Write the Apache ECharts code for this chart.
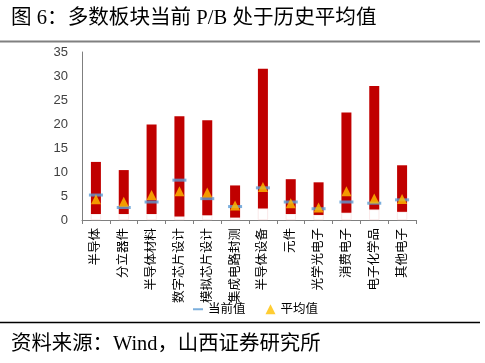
<!DOCTYPE html>
<html><head><meta charset="utf-8">
<script src="https://cdn.jsdelivr.net/npm/echarts@6/dist/echarts.min.js"></script>
<style>html,body{margin:0;padding:0;background:#fff}#c{width:485px;height:363px}</style>
</head><body><div id="c"></div>
<script>
const categories = ['半导体','分立器件','半导体材料','数字芯片设计','模拟芯片设计','集成电路封测','半导体设备','元件','光学光电子','消费电子','电子化学品','其他电子'];
const minValues = [1.25, 1.25, 1.25, 0.75, 1.0, 0.5, 2.4, 1.25, 1.05, 1.5, 2.2, 1.7];
const maxValues = [12.1, 10.4, 19.9, 21.6, 20.8, 7.2, 31.5, 8.5, 7.85, 22.4, 27.9, 11.4];
const currentValues = [5.2, 2.6, 3.75, 8.3, 4.45, 2.8, 6.7, 3.75, 2.35, 3.75, 3.5, 4.2];
const averageValues = [4.3, 3.8, 5.2, 6.0, 5.75, 3.0, 6.9, 3.5, 2.6, 6.0, 4.5, 4.35];
const yTicks = [0, 5, 10, 15, 20, 25, 30, 35];

const rangeValues = maxValues.map((v, i) => +(v - minValues[i]).toFixed(3));
const cjk = '"Liberation Serif", "Noto Sans CJK SC", serif';
const sans = '"Liberation Sans", "Noto Sans CJK SC", sans-serif';

const chart = echarts.init(document.getElementById('c'));
chart.setOption({
  animation: false,
  backgroundColor: '#fff',
  title: [
    { text: '图 6：多数板块当前 P/B 处于历史平均值', left: 6, top: 3,
      textStyle: { fontFamily: cjk, fontSize: 20.6, fontWeight: 'normal', color: '#000' } },
    { text: '资料来源：Wind，山西证券研究所', left: 6, top: 329,
      textStyle: { fontFamily: cjk, fontSize: 20.4, fontWeight: 'normal', color: '#000' } }
  ],
  graphic: [
    { type: 'line', shape: { x1: 0, y1: 41.5, x2: 480, y2: 41.5 }, style: { stroke: '#808080', lineWidth: 2 } },
    { type: 'line', shape: { x1: 0, y1: 322.5, x2: 480, y2: 322.5 }, style: { stroke: '#000', lineWidth: 1.5 } }
  ],
  grid: { left: 82, right: 69, top: 52, bottom: 143 },
  legend: {
    top: 298, left: 188, itemGap: 20, itemWidth: 10, itemHeight: 10,
    textStyle: { fontFamily: sans, fontSize: 12.5, color: '#000' },
    data: [
      { name: '当前值', icon: 'path://M0,4 L10,4 L10,6 L0,6 Z', itemStyle: { color: '#5B9BD5' } },
      { name: '平均值', icon: 'triangle', itemStyle: { color: '#FFC000' } }
    ]
  },
  xAxis: {
    type: 'category', data: categories,
    axisLine: { lineStyle: { color: '#7f7f7f', width: 1 } },
    axisTick: { show: true, length: 4, lineStyle: { color: '#7f7f7f' } },
    axisLabel: { rotate: 90, fontFamily: sans, fontSize: 12.5, color: '#000', margin: 8, interval: 0 }
  },
  yAxis: {
    type: 'value', min: 0, max: 35, interval: 5,
    axisLine: { show: true, lineStyle: { color: '#7f7f7f', width: 1 } },
    axisTick: { show: false },
    splitLine: { show: false },
    axisLabel: { fontFamily: sans, fontSize: 13, color: '#404040', margin: 14,
      formatter: v => yTicks.includes(v) ? String(v) : '' }
  },
  series: [
    { name: 'base', type: 'bar', stack: 'r', barWidth: 10, data: minValues, silent: true,
      itemStyle: { color: '#fff', borderColor: '#f6dada', borderWidth: 0.6 } },
    { name: '区间', type: 'bar', stack: 'r', barWidth: 10, data: rangeValues,
      itemStyle: { color: '#C00000' } },
    { name: '当前值', type: 'scatter', data: currentValues, symbol: 'rect', symbolSize: [14, 3],
      itemStyle: { color: '#5B9BD5' }, z: 5 },
    { name: '平均值', type: 'scatter', data: averageValues, symbol: 'triangle', symbolSize: 10,
      itemStyle: { color: '#FFC000' }, z: 6 }
  ]
});
</script></body></html>
